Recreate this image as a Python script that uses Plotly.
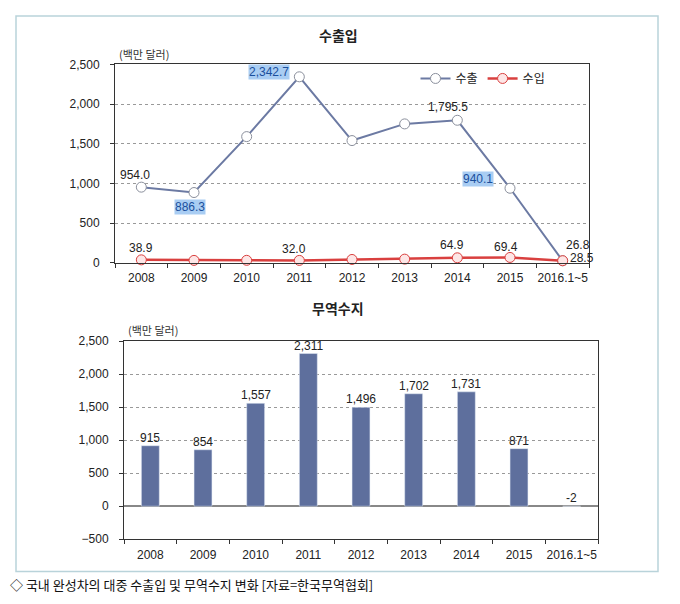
import plotly.graph_objects as go

# data
years = ['2008', '2009', '2010', '2011', '2012', '2013', '2014', '2015', '2016.1~5']
exports = [954.0, 886.3, 1590, 2342.7, 1540, 1750, 1795.5, 940.1, 26.8]
imports = [38.9, 32.3, 33, 32.0, 44, 48, 64.9, 69.4, 28.5]
balance = [915, 854, 1557, 2311, 1496, 1702, 1731, 871, -2]

OFF = 8  # page body margin
W, H = 680 - 2 * OFF, 604 - 2 * OFF
num_font = 'Liberation Sans Narrow, Liberation Sans, Arial, sans-serif'
kr_font = 'Noto Sans CJK KR, sans-serif'


def px(x):
    return (x - OFF) / W


def py(y):
    return 1 - (y - OFF) / H


fig = go.Figure()

# top chart: exports / imports
fig.add_trace(go.Scatter(
    x=years, y=exports, name='수출', mode='lines+markers',
    line=dict(color='#6c7aa3', width=2),
    marker=dict(size=10, color='white', line=dict(color='#8a8f9c', width=1)),
    cliponaxis=False, xaxis='x', yaxis='y'))
fig.add_trace(go.Scatter(
    x=years, y=imports, name='수입', mode='lines+markers',
    line=dict(color='#d9403f', width=2.5),
    marker=dict(size=10, color='#fde6e6', line=dict(color='#d9403f', width=1)),
    cliponaxis=False, xaxis='x', yaxis='y'))

# bottom chart: trade balance
fig.add_trace(go.Bar(
    x=years, y=balance, marker_color='#5e6f9d', width=0.34,
    showlegend=False, xaxis='x2', yaxis='y2'))

# data labels (series index, x shift, y shift, highlight)
exp_labels = [(0, -6, 12, False), (1, -4, -14, True), (3, -30, 5, True),
              (6, -9, 13, False), (7, -32, 9, True), (8, 15, 16, False)]
imp_labels = [(0, 0, 12, False), (3, -5, 11, False), (6, -5, 13, False),
              (7, -4, 10, False), (8, 19, 3, False)]

annotations = []
for i, dx, dy, hl in exp_labels:
    annotations.append(dict(
        x=i, y=exports[i], xref='x', yref='y', showarrow=False,
        text=f'{exports[i]:,.1f}', xshift=dx, yshift=dy,
        font=dict(family=num_font, size=12, color='#1a4f9c' if hl else '#222'),
        bgcolor='#a9cdf3' if hl else None, borderpad=0))
for i, dx, dy, hl in imp_labels:
    annotations.append(dict(
        x=i, y=imports[i], xref='x', yref='y', showarrow=False,
        text=f'{imports[i]:,.1f}', xshift=dx, yshift=dy,
        font=dict(family=num_font, size=12, color='#222')))
for i, v in enumerate(balance):
    annotations.append(dict(
        x=i, y=max(v, 0), xref='x2', yref='y2', showarrow=False,
        text=f'{v:,}', yshift=8,
        font=dict(family=num_font, size=12, color='#222')))


def paper_text(x, y, text, size, anchor='center', weight='normal', color='#222'):
    return dict(x=px(x), y=py(y), xref='paper', yref='paper', showarrow=False,
                xanchor=anchor, yanchor='middle', text=text,
                font=dict(family=kr_font, size=size, color=color, weight=weight))


# titles, units and caption
annotations += [
    paper_text(338, 28, '수출입', 14, weight=600),
    paper_text(338, 308, '무역수지', 14, weight=600),
    paper_text(117, 48, '(백만 달러)', 11, anchor='left', color='#333'),
    paper_text(126, 331, '(백만 달러)', 11, anchor='left', color='#333'),
    paper_text(8, 591, '◇ 국내 완성차의 대중 수출입 및 무역수지 변화 [자료=한국무역협회]',
               13, anchor='left', color='#111'),
]

xcommon = dict(type='category', range=[-0.5, len(years) - 0.5],
               showline=True, linecolor='#333', linewidth=1,
               mirror=True, ticks='outside', tickson='boundaries', ticklen=4,
               tickcolor='#333', showgrid=False, tickangle=0,
               ticklabelstandoff=4,
               tickfont=dict(family=num_font, size=12, color='#222'))
ycommon = dict(showline=True, linecolor='#333', linewidth=1, mirror=True,
               ticks='outside', ticklen=4, tickcolor='#333',
               gridcolor='#999', griddash='dot', gridwidth=1,
               tickformat=',d', zeroline=False, ticklabelstandoff=8,
               tickfont=dict(family=num_font, size=12, color='#222'))

fig.update_layout(
    width=W, height=H,
    margin=dict(l=0, r=0, t=0, b=0),
    paper_bgcolor='white', plot_bgcolor='white',
    xaxis=dict(xcommon, domain=[px(115), px(589)], anchor='y'),
    yaxis=dict(ycommon, domain=[py(262), py(58.5)], range=[0, 2500],
               dtick=500, anchor='x'),
    xaxis2=dict(xcommon, domain=[px(124), px(598)], anchor='y2'),
    yaxis2=dict(ycommon, domain=[py(545), py(342)], range=[-500, 2500],
                dtick=500, anchor='x2', zeroline=True, zerolinecolor='#888',
                zerolinewidth=1.5),
    legend=dict(orientation='h', x=px(483), y=py(73), yanchor='middle',
                xanchor='center', bgcolor='rgba(0,0,0,0)',
                font=dict(family=kr_font, size=12, color='#222'),
                itemwidth=30, tracegroupgap=0),
    annotations=annotations,
    shapes=[dict(type='rect', xref='paper', yref='paper', layer='below',
                 x0=px(16), x1=px(658), y0=py(578), y1=py(9),
                 line=dict(color='#b9d3da', width=1.5), fillcolor='white')],
    showlegend=True,
)

fig.write_html('out.html')
